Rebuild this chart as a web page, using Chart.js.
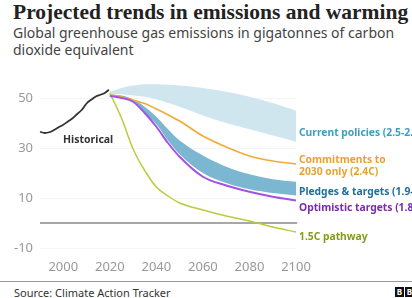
<!DOCTYPE html>
<html>
<head>
<meta charset="utf-8">
<script src="https://cdn.jsdelivr.net/npm/chart.js@4/dist/chart.umd.min.js"></script>
<style>
  html, body { margin: 0; padding: 0; background: #fff; }
  body { width: 412px; height: 298px; position: relative; overflow: hidden; font-family: "Noto Sans", sans-serif; }
  #wrap { position: absolute; left: 0; top: 80px; width: 412px; height: 195px; }
  .title { position: absolute; left: 13px; top: 0px; font-family: "Liberation Serif", serif; font-weight: bold; font-size: 21.5px; color: #222; white-space: nowrap; }
  .sub { position: absolute; left: 13px; top: 24px; font-size: 14px; line-height: 17px; color: #444; width: 405px; }
  .lbl { position: absolute; font-size: 10.3px; font-weight: bold; line-height: 11.5px; white-space: nowrap; }
  .foot-line { position: absolute; left: 0; top: 281px; width: 412px; height: 1px; background: #999; }
  .source { position: absolute; left: 14px; top: 285px; font-size: 11px; color: #333; white-space: nowrap; }
  .logo { position: absolute; top: 287px; width: 9px; height: 10px; background: #111; color: #fff; font-size: 8px; font-weight: bold; line-height: 10px; text-align: center; }
</style>
</head>
<body>
<div class="title">Projected trends in emissions and warming</div>
<div class="sub">Global greenhouse gas emissions in gigatonnes of carbon dioxide equivalent</div>

<div id="wrap"><canvas id="chart" width="412" height="195"></canvas></div>

<!-- 系列ラベル -->
<div class="lbl" style="left:63px; top:134px; color:#333; font-size:10.5px;">Historical</div>
<div class="lbl" style="left:299px; top:127px; color:#3f9fc2;">Current policies (2.5-2.9C)</div>
<div class="lbl" style="left:299px; top:154px; color:#e9a232;">Commitments to<br>2030 only (2.4C)</div>
<div class="lbl" style="left:299px; top:186px; color:#20709a;">Pledges &amp; targets (1.9-2.1C)</div>
<div class="lbl" style="left:299px; top:202px; color:#7b2ca8;">Optimistic targets (1.8C)</div>
<div class="lbl" style="left:299px; top:231px; color:#7f9c1e;">1.5C pathway</div>

<div class="foot-line"></div>
<div class="source">Source: Climate Action Tracker</div>
<div class="logo" style="left:395px;">B</div>
<div class="logo" style="left:405px;">B</div>

<script>
// * =============== データ =============== *

const histYears = [1990, 1992, 1994, 1996, 1998, 2000, 2002, 2004, 2006, 2008, 2010, 2012, 2014, 2016, 2018, 2019.6];
const histValues = [36.5, 36, 36.3, 37.2, 38.3, 39.3, 40.6, 41.9, 43.6, 45.3, 47.8, 49.3, 50.6, 51.3, 52.1, 53.3];

const projYears = [2020, 2025, 2030, 2035, 2040, 2045, 2050, 2060, 2070, 2080, 2090, 2100];
const currentHigh = [52.5, 54, 55, 55.5, 55.5, 55.3, 55, 54, 52.5, 50.5, 48, 45];
const currentLow = [51.5, 51.5, 51, 50.5, 49.5, 48, 46.5, 43, 40, 37.5, 35, 32.5];
const commitments = [51.3, 50.5, 49.2, 47.8, 45.6, 43.3, 40.8, 34.8, 30.4, 26.8, 24.8, 23.6];
const pledgesHigh = [51.3, 51, 49.5, 46.5, 42.5, 37.5, 33, 27, 22.5, 19.5, 17.5, 16.5];
const pledgesLow = [50.8, 50.5, 48.5, 44, 39.5, 33, 27.5, 20, 16, 13.5, 12, 11];
const optimistic = [50.8, 50, 48.5, 44, 38.5, 32, 26.5, 18.5, 15, 12.5, 10.5, 9];
const pathway15 = [52, 42, 29.6, 21, 14.4, 10.8, 8, 5.2, 2.8, 0.8, -1.6, -3.6];

const yTicks = [-10, 10, 30, 50];
const xTicks = [2000, 2020, 2040, 2060, 2080, 2100];

// 年と値を{x, y}にまとめる
function pts(years, values) {
    return years.map(function (yr, i) { return { x: yr, y: values[i] }; });
}

function line(data, color, width, order) {
    return {
        data: data,
        borderColor: color,
        borderWidth: width,
        pointRadius: 0,
        fill: false,
        tension: 0.35,
        cubicInterpolationMode: 'monotone',
        clip: false,
        order: order
    };
}

const datasets = [
    // 現行政策の帯
    Object.assign(line(pts(projYears, currentHigh), 'rgba(0,0,0,0)', 0, 9), { fill: '+1', backgroundColor: '#cfe6ef' }),
    line(pts(projYears, currentLow), 'rgba(0,0,0,0)', 0, 9),
    // 誓約・目標の帯
    Object.assign(line(pts(projYears, pledgesHigh), 'rgba(0,0,0,0)', 0, 8), { fill: '+1', backgroundColor: '#7bb7d0' }),
    line(pts(projYears, pledgesLow), 'rgba(0,0,0,0)', 0, 8),
    // ゼロの線
    line(pts([1990, 2100.5], [0, 0]), '#8a8a8a', 1.6, 7),
    line(pts(projYears, pathway15), '#bccb3e', 1.5, 3),
    line(pts(projYears, commitments), '#f0aa35', 1.6, 2),
    line(pts(projYears, optimistic), '#a253e6', 2, 1),
    line(pts(histYears, histValues), '#333333', 1.8, 0)
];

new Chart(document.getElementById('chart').getContext('2d'), {
    type: 'line',
    data: { datasets: datasets },
    options: {
        responsive: false,
        animation: false,
        layout: { padding: { top: 3, right: 116, left: 0, bottom: 0 } },
        plugins: { legend: { display: false }, tooltip: { enabled: false } },
        scales: {
            x: {
                type: 'linear',
                min: 1990,
                max: 2100,
                afterFit: function (s) { s.height = 17; s.paddingLeft = 0; s.paddingRight = 0; },
                afterBuildTicks: function (s) { s.ticks = xTicks.map(function (v) { return { value: v }; }); },
                grid: { display: false, drawTicks: false },
                border: { display: false },
                ticks: {
                    padding: 1,
                    color: '#999',
                    font: { family: 'Noto Sans', size: 13 },
                    callback: function (v) { return String(v); }
                }
            },
            y: {
                min: -14,
                max: 56,
                afterFit: function (s) { s.width = 40; s.paddingTop = 0; s.paddingBottom = 0; },
                afterBuildTicks: function (s) { s.ticks = yTicks.map(function (v) { return { value: v }; }); },
                grid: { color: 'rgba(0,0,0,0.04)', drawTicks: false },
                border: { display: false },
                ticks: {
                    padding: 7,
                    color: '#999',
                    font: { family: 'Noto Sans', size: 13 }
                }
            }
        }
    }
});
</script>
</body>
</html>
